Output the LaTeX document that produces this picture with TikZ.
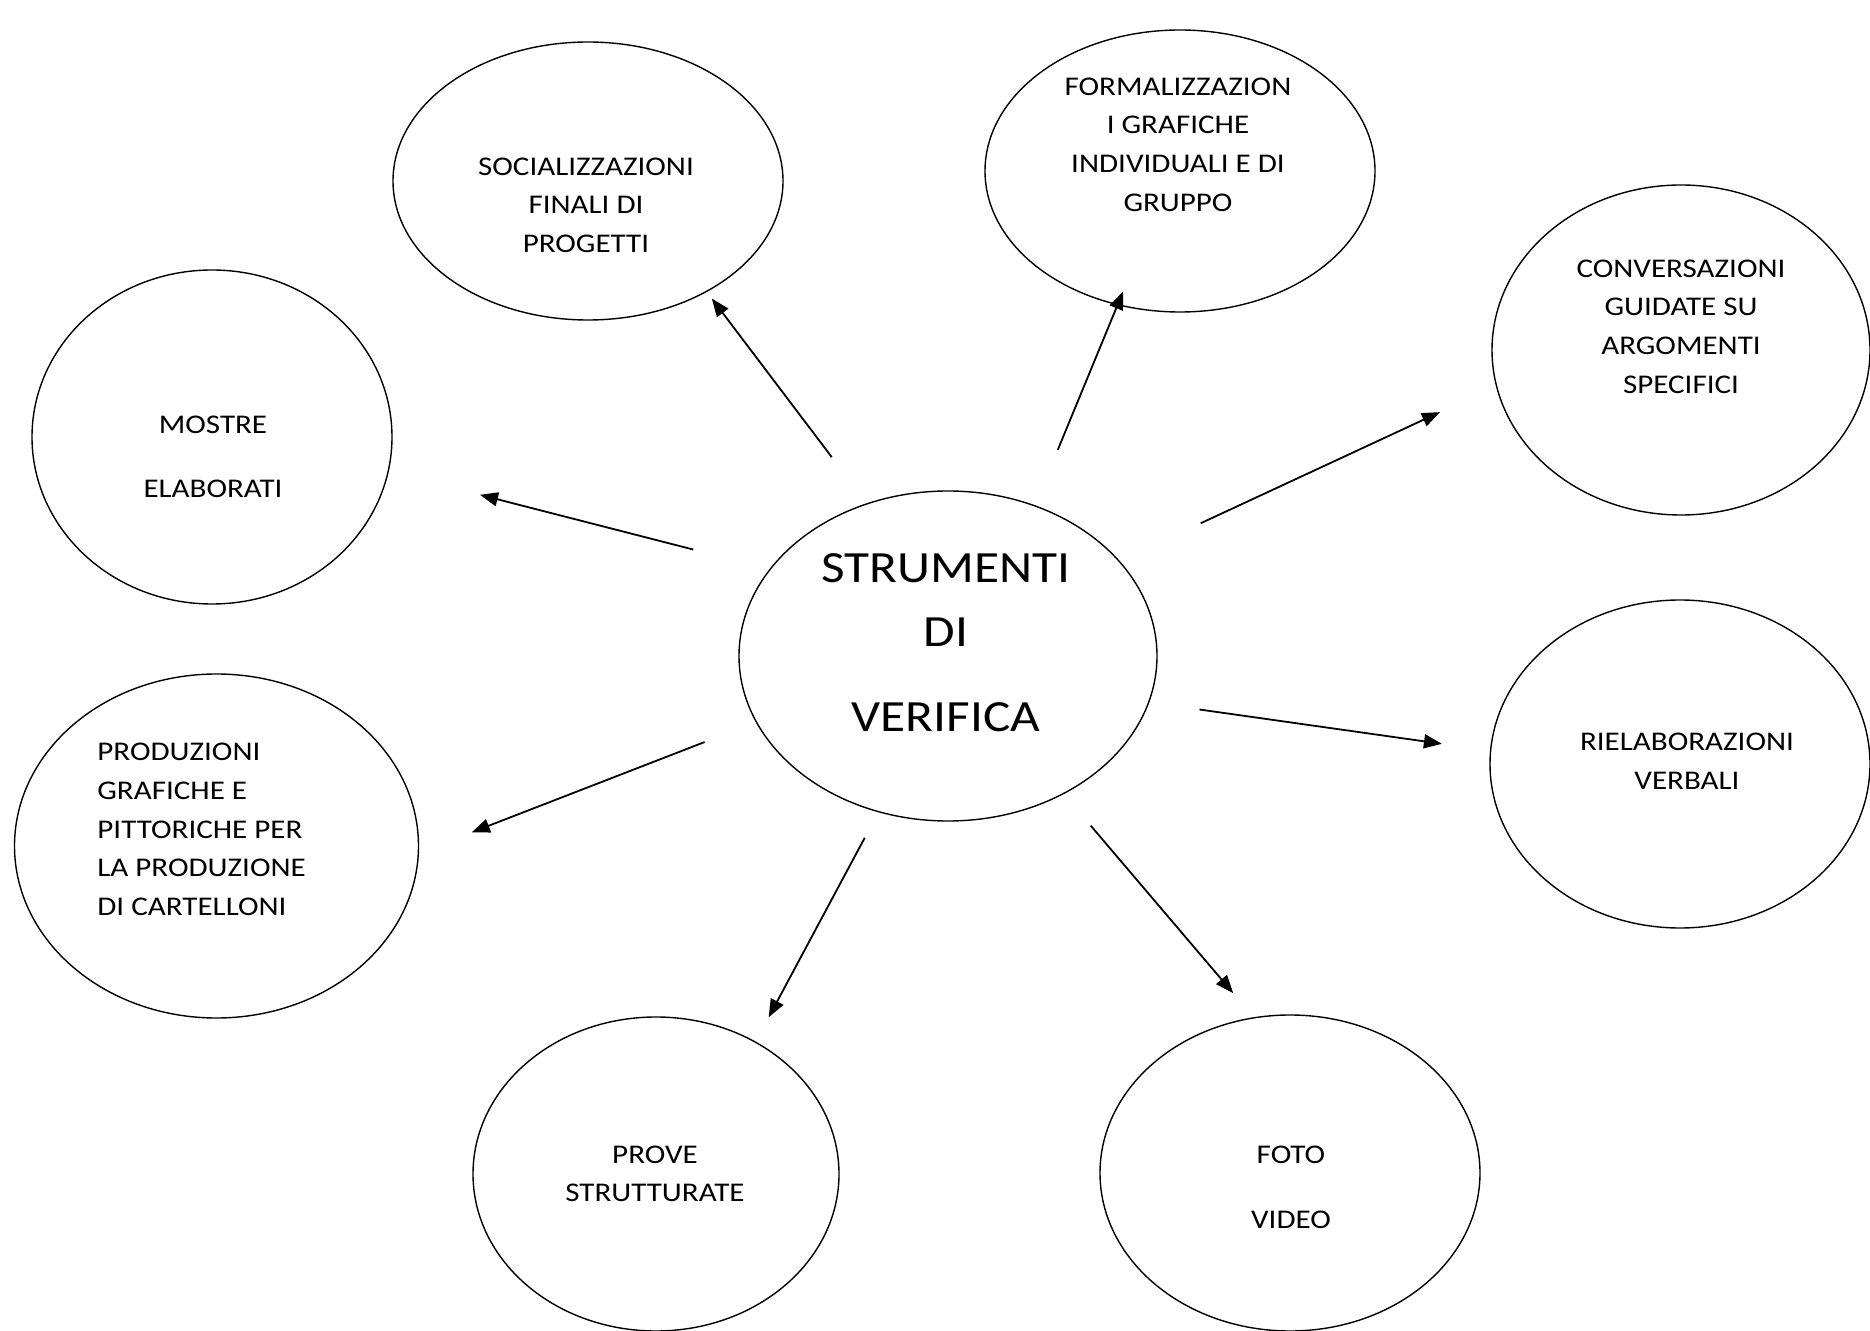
\documentclass[tikz,border=0pt]{standalone}
\usepackage{fontspec}
\setmainfont{Carlito}[FakeStretch=1.15]
\usetikzlibrary{arrows.meta,shapes.geometric}

\begin{document}
\begin{tikzpicture}[x=0.5pt,y=-0.5pt,
    txt/.style={align=center, inner sep=0pt, font=\fontsize{13.5}{19.3}\selectfont},
    link/.style={-{Triangle[length=9pt,width=7pt]}, line width=0.9pt}]
        \tikzstyle{bubble} = [draw, ellipse, inner sep=0pt, outer sep=0pt, line width=0.7pt]
        \useasboundingbox (0,0) rectangle (1870,1331);

        % ellipses
        \node[bubble, minimum width=209pt, minimum height=165pt] (c) at (948,656) {};
        \node[bubble, minimum width=195pt, minimum height=139pt] (soc) at (588,181) {};
        \node[bubble, minimum width=195pt, minimum height=141pt] (form) at (1180,171) {};
        \node[bubble, minimum width=189pt, minimum height=165pt] (conv) at (1681,350) {};
        \node[bubble, minimum width=180pt, minimum height=167pt] (mostre) at (212,437) {};
        \node[bubble, minimum width=202pt, minimum height=172pt] (prod) at (216.5,846) {};
        \node[bubble, minimum width=190pt, minimum height=164pt] (riel) at (1680,764) {};
        \node[bubble, minimum width=183pt, minimum height=157pt] (prove) at (656,1174) {};
        \node[bubble, minimum width=190pt, minimum height=158pt] (foto) at (1290,1173) {};

        % texts
        \node[txt, font=\fontsize{22.3}{32}\selectfont] (c-txt) at (946,642.5) {STRUMENTI\\DI\\[10.5pt]VERIFICA};
        \node[txt] (soc-txt) at (586,205) {SOCIALIZZAZIONI\\FINALI DI\\PROGETTI};
        \node[txt] (form-txt) at (1178,144.5) {FORMALIZZAZION\\I GRAFICHE\\INDIVIDUALI E DI\\GRUPPO};
        \node[txt] (conv-txt) at (1681,326.5) {CONVERSAZIONI\\GUIDATE SU\\ARGOMENTI\\SPECIFICI};
        \node[txt] (mostre-txt) at (213,457) {MOSTRE\\[12.7pt]ELABORATI};
        \node[txt, align=left, anchor=west] (prod-txt) at (97,829.5) {PRODUZIONI\\GRAFICHE E\\PITTORICHE PER\\LA PRODUZIONE\\DI CARTELLONI};
        \node[txt] (riel-txt) at (1687,761) {RIELABORAZIONI\\VERBALI};
        \node[txt] (prove-txt) at (655,1174) {PROVE\\STRUTTURATE};
        \node[txt] (foto-txt) at (1291,1187.5) {FOTO\\[13.2pt]VIDEO};

        % arrows
        \draw[link, shorten <=29.3pt, shorten >=4.5pt] (c.118) -- (soc.317.4);
        \draw[link, shorten <=30.3pt, shorten >=-7.1pt] (c.60.1) -- (form.245.7);
        \draw[link, shorten <=45pt, shorten >=31.2pt] (c.29.3) -- (conv.191.4);
        \draw[link, shorten <=39.7pt, shorten >=47.4pt] (c.154.2) -- (mostre.349);
        \draw[link, shorten <=25.7pt, shorten >=24.6pt] (c.347.5) -- (riel.176.1);
        \draw[link, shorten <=27.8pt, shorten >=28.7pt] (c.199.4) -- (prod.358.2);
        \draw[link, shorten <=14.8pt, shorten >=14.1pt] (c.246.5) -- (prove.53.3);
        \draw[link, shorten <=21.1pt, shorten >=16.2pt] (c.310.5) -- (foto.103.1);
\end{tikzpicture}
\end{document}
